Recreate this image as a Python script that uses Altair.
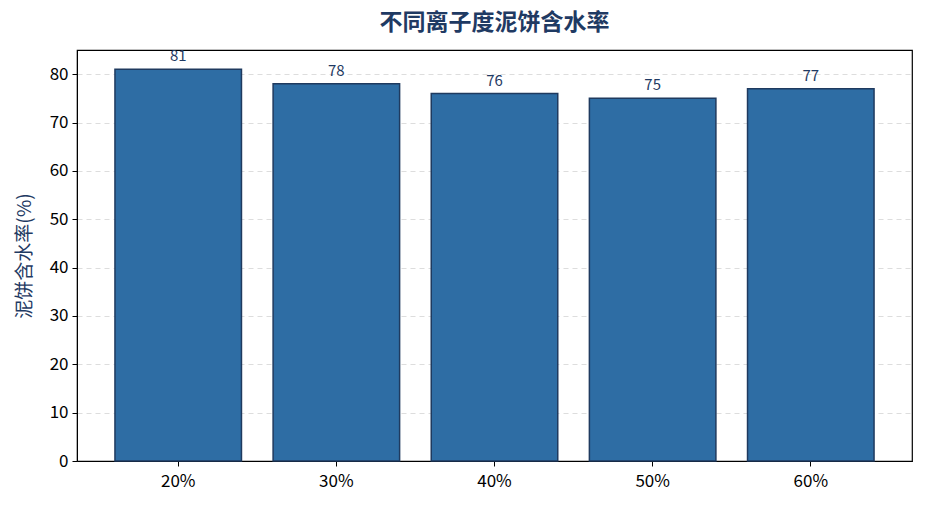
import altair as alt
import pandas as pd

categories = ["20%", "30%", "40%", "50%", "60%"]
values = [81, 78, 76, 75, 77]

df = pd.DataFrame({"cat": categories, "val": values})

FONT = "Noto Sans CJK SC"
NAVY = "#1f3a63"

base = alt.Chart(df).encode(
    x=alt.X("cat:N", sort=categories,
            scale=alt.Scale(paddingInner=0.2, paddingOuter=0.24),
            axis=alt.Axis(title=None, labelAngle=0, labelFontSize=17, labelColor="black",
                          labelFont=FONT, tickColor="black", domainColor="black",
                          tickSize=5, labelPadding=7, grid=False)),
    y=alt.Y("val:Q", scale=alt.Scale(domain=[0, 85], nice=False),
            axis=alt.Axis(title="泥饼含水率(%)", titleFontSize=19, titleColor=NAVY,
                          titleFont=FONT, titleFontWeight="normal", titlePadding=15,
                          values=[0, 10, 20, 30, 40, 50, 60, 70, 80],
                          labelFontSize=17, labelColor="black", labelFont=FONT,
                          labelPadding=4,
                          tickColor="black", domainColor="black", tickSize=5,
                          gridColor="#dddddd", gridDash=[5, 4], gridWidth=1)),
)

bars = base.mark_bar(color="#2e6da4", stroke="#1f3a5f", strokeWidth=1.5)
labels = base.mark_text(baseline="alphabetic", dy=-8, fontSize=15, color=NAVY, font=FONT).encode(
    text="val:Q")

chart = (bars + labels).properties(
    width=835, height=411,
    title=alt.TitleParams("不同离子度泥饼含水率", fontSize=23, fontWeight="bold",
                          color=NAVY, font=FONT, anchor="middle", offset=14),
    autosize=alt.AutoSizeParams(type="none"),
    padding={"left": 69, "top": 42, "right": 5, "bottom": 40},
).configure_view(stroke="black", strokeWidth=1.2)

chart.save("out.html", embed_options={"renderer": "svg", "actions": False})
